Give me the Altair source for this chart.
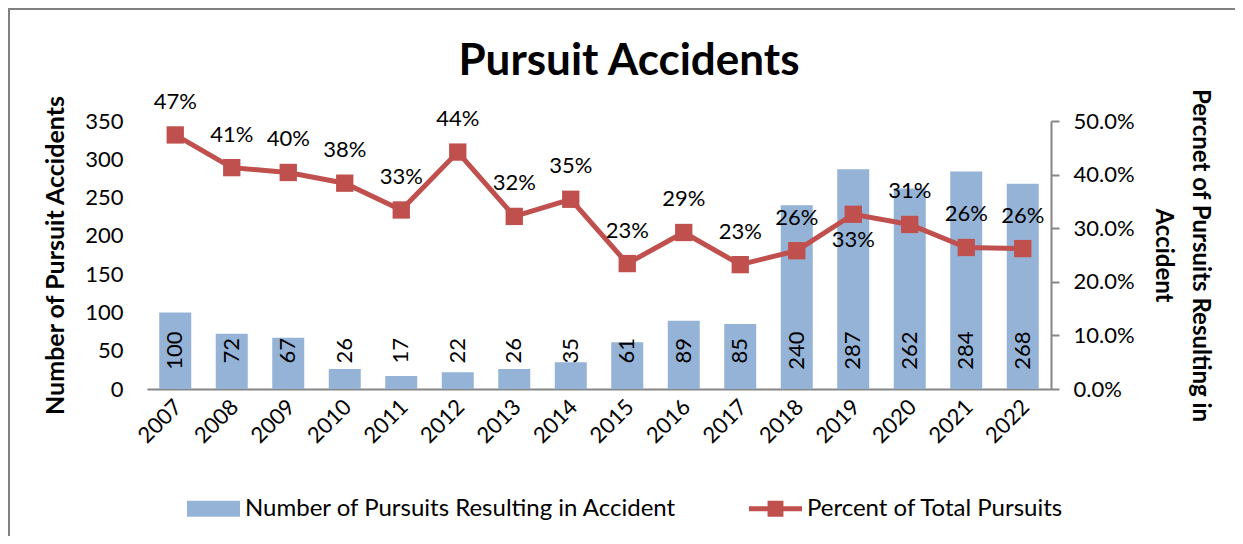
import altair as alt
import pandas as pd

years = [str(y) for y in range(2007, 2023)]
counts = [100, 72, 67, 26, 17, 22, 26, 35, 61, 89, 85, 240, 287, 262, 284, 268]
pcts = [0.474, 0.413, 0.404, 0.384, 0.334, 0.442, 0.322, 0.354, 0.234, 0.292,
        0.232, 0.258, 0.326, 0.307, 0.264, 0.262]
count_ticks = [0, 50, 100, 150, 200, 250, 300, 350]
pct_ticks = [0.0, 0.1, 0.2, 0.3, 0.4, 0.5]
series_names = ["Number of Pursuits Resulting in Accident", "Percent of Total Pursuits"]
below_label_years = ["2019"]
chart_title = ["Pursuit Accidents"]

df = pd.DataFrame({"year": years, "count": counts, "pct": pcts})
legend_df = pd.DataFrame({"series": series_names})
title_df = pd.DataFrame({"title": chart_title})

FONT = "Lato"
BLUE = "#95B3D7"
RED = "#C0504D"
GRAY = "#868686"

xenc = alt.X(
    "year:N",
    sort=years,
    scale=alt.Scale(paddingInner=0.43, paddingOuter=0.215),
    axis=alt.Axis(
        title=None, labelAngle=-45, labelAlign="right", labelBaseline="middle",
        labelFontSize=22, labelFont=FONT, labelColor="black", labelPadding=14,
        labelOffset=3, ticks=False, domainColor=GRAY, domainWidth=2,
    ),
)

count_axis = alt.Axis(
    title="Number of Pursuit Accidents", values=count_ticks, orient="left",
    grid=False, domain=False, ticks=False, labelFontSize=22, labelFont=FONT,
    labelColor="black", labelPadding=24, labelOverlap=False, titleFontSize=25,
    titleFont=FONT, titleFontWeight="bold", titleColor="black", titlePadding=16,
)
pct_axis = alt.Axis(
    title=["Percnet of Pursuits Resulting in", "Accident"], values=pct_ticks,
    format=".1%", orient="right", grid=False, domain=True, domainColor=GRAY,
    domainWidth=2, ticks=True, tickColor=GRAY, tickWidth=2, tickSize=8,
    labelFontSize=22, labelFont=FONT, labelColor="black", labelPadding=14,
    labelOverlap=False, titleFontSize=24, titleFont=FONT, titleFontWeight="bold",
    titleColor="black", titlePadding=16, titleLineHeight=37,
)

base = alt.Chart(df)

bars = base.mark_bar(color=BLUE, size=32).encode(
    x=xenc,
    y=alt.Y("count:Q", scale=alt.Scale(domain=[0, 350]), axis=count_axis),
)
bar_labels = base.mark_text(
    angle=270, align="center", baseline="middle", fontSize=22, font=FONT, color="black"
).encode(
    x=xenc,
    y=alt.YDatum(50, axis=count_axis),
    text=alt.Text("count:Q"),
)
bar_layer = alt.layer(bars, bar_labels)

line = base.mark_line(color=RED, strokeWidth=5).encode(
    x=xenc,
    y=alt.Y("pct:Q", scale=alt.Scale(domain=[0, 0.5]), axis=pct_axis),
)
points = base.mark_square(color=RED, size=300, opacity=1, filled=True).encode(
    x=xenc, y=alt.Y("pct:Q", axis=pct_axis),
)
labels_above = base.transform_filter(
    ~alt.FieldOneOfPredicate(field="year", oneOf=below_label_years)
).mark_text(dy=-33, fontSize=22, font=FONT, color="black").encode(
    x=xenc, y=alt.Y("pct:Q", axis=pct_axis), text=alt.Text("pct:Q", format=".0%"),
)
labels_below = base.transform_filter(
    alt.FieldOneOfPredicate(field="year", oneOf=below_label_years)
).mark_text(dy=26, fontSize=22, font=FONT, color="black").encode(
    x=xenc, y=alt.Y("pct:Q", axis=pct_axis), text=alt.Text("pct:Q", format=".0%"),
)
line_layer = alt.layer(line, points, labels_above, labels_below)

legend_layer = alt.Chart(legend_df).transform_filter("false").mark_point(
    filled=True, opacity=1
).encode(
    color=alt.Color(
        "series:N",
        scale=alt.Scale(domain=series_names, range=[BLUE, RED]),
        legend=alt.Legend(
            title=None, orient="none", legendX=40, legendY=361, direction="horizontal",
            symbolSize=2809, symbolStrokeWidth=0, labelFontSize=24, labelFont=FONT,
            labelColor="black", labelOffset=5, columnPadding=72, symbolOpacity=1,
            labelLimit=800,
        ),
    ),
    shape=alt.Shape(
        "series:N",
        scale=alt.Scale(
            domain=series_names,
            range=[
                "M-1,-0.3H1V0.3H-1Z",
                "M-1,-0.09H-0.3V-0.3H0.3V-0.09H1V0.09H0.3V0.3H-0.3V0.09H-1Z",
            ],
        ),
        legend=None,
    ),
)

title_text = alt.Chart(title_df).mark_text(
    font=FONT, fontSize=44, fontWeight="bold", color="black",
    align="center", baseline="alphabetic",
).encode(x=alt.value(482), y=alt.value(-46), text="title:N")

frame_top = alt.Chart(title_df).mark_rule(color="#808080", strokeWidth=2).encode(
    x=alt.value(-139), x2=alt.value(1100), y=alt.value(-112)
)
frame_left = alt.Chart(title_df).mark_rule(color="#808080", strokeWidth=2).encode(
    x=alt.value(-138), y=alt.value(-113), y2=alt.value(430)
)

chart = alt.layer(
    bar_layer, line_layer, legend_layer, title_text, frame_top, frame_left
).resolve_scale(
    y="independent"
).properties(
    width=904,
    height=268,
    padding={"left": 139, "top": 113, "right": 184, "bottom": 147},
    autosize="none",
).configure_view(stroke=None)

chart.save("out.html", embed_options={"renderer": "svg", "actions": False})
